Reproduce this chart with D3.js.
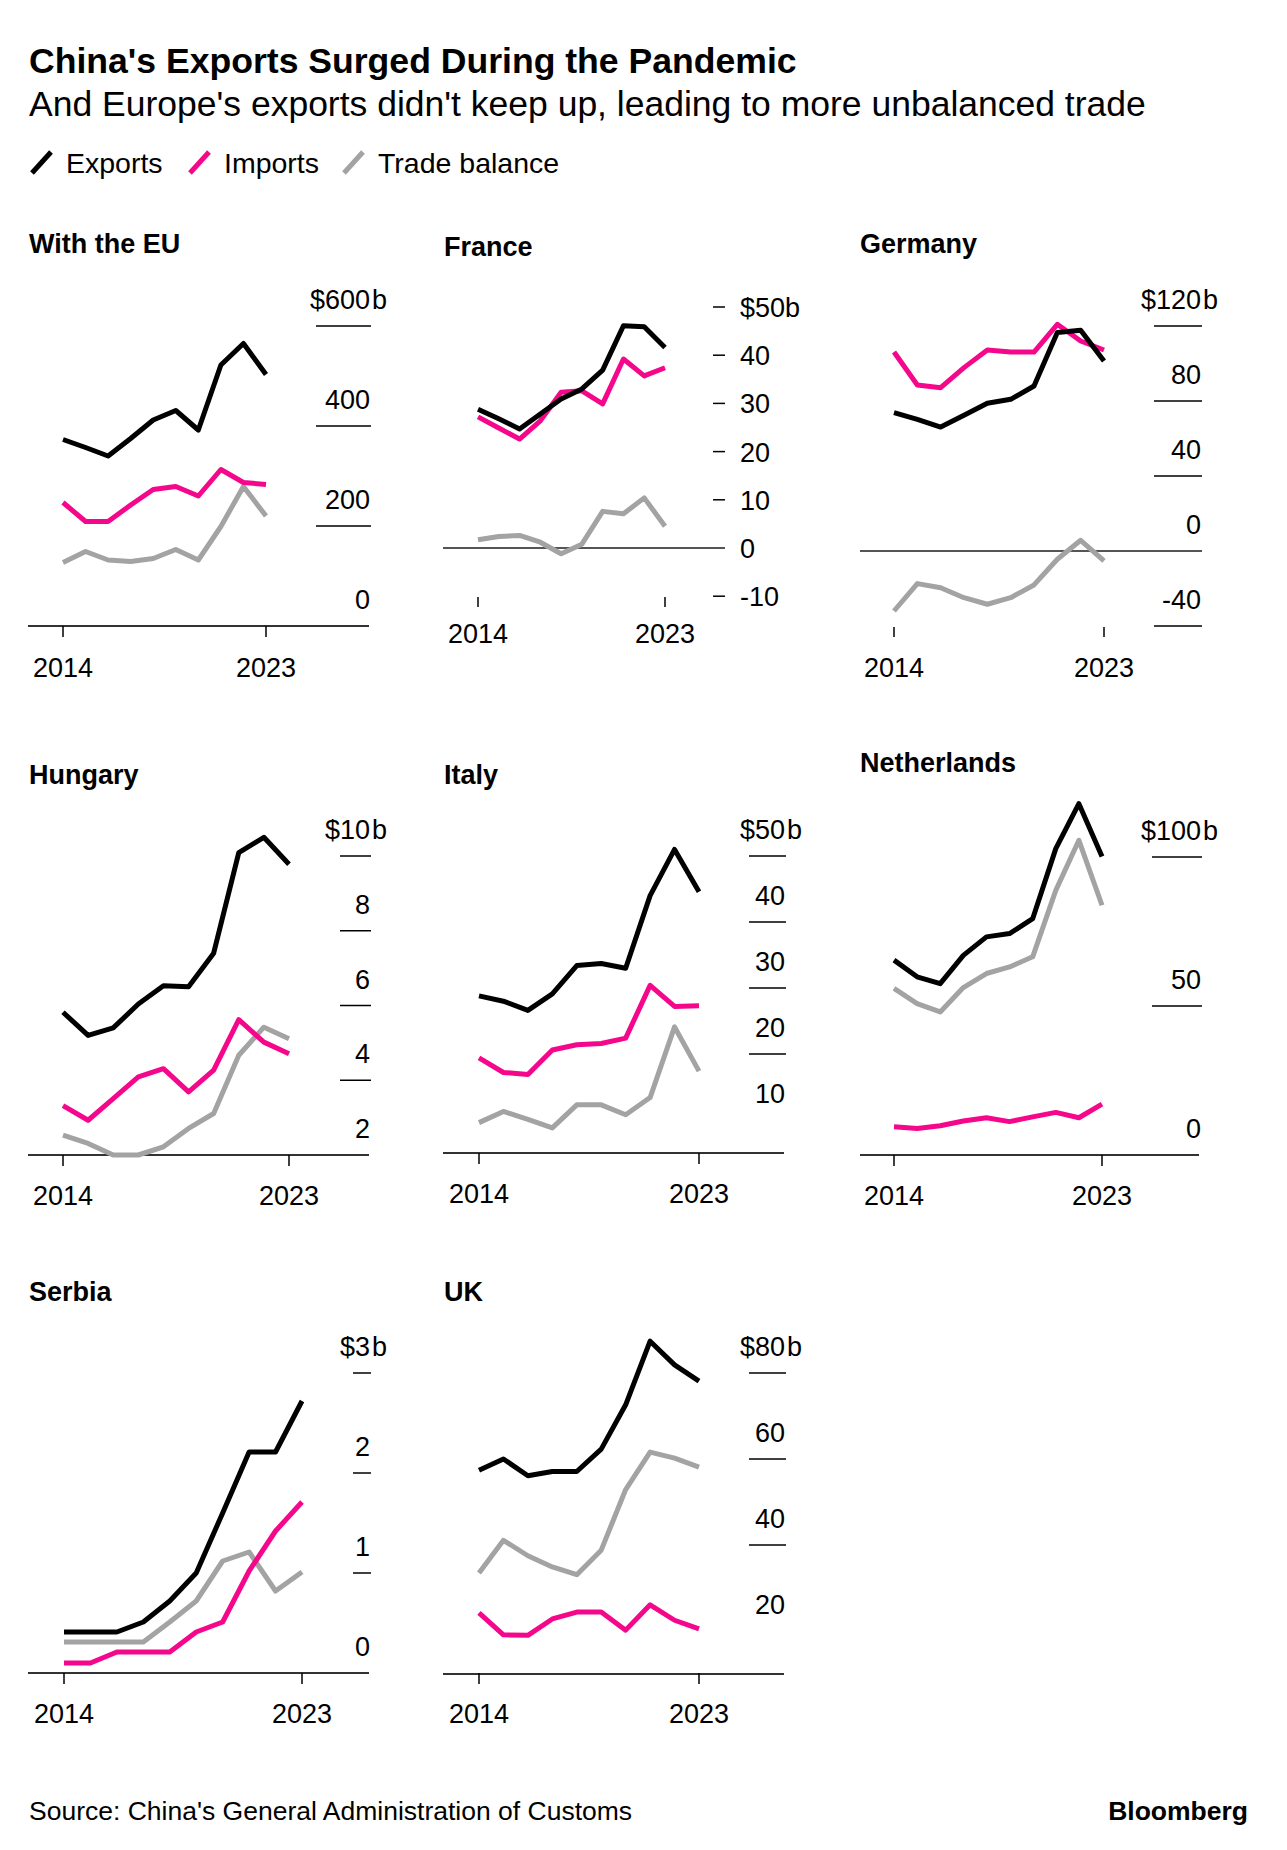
<!DOCTYPE html>
<html>
<head>
<meta charset="utf-8">
<script src="https://cdn.jsdelivr.net/npm/d3@7"></script>
<style>
  body { margin: 0; background: #fff; }
  text { font-family: "Liberation Sans", Arial, sans-serif; }
</style>
</head>
<body>
<div id="chart"></div>
<script>
// China trade with Europe, $b, 2014-2023
const years = [2014, 2015, 2016, 2017, 2018, 2019, 2020, 2021, 2022, 2023];

const euExports = [373, 357, 340, 375, 412, 431, 392, 522, 565, 503];
const euImports = [247, 209, 209, 242, 273, 279, 260, 313, 287, 283];
const euBalance = [127, 149, 132, 129, 135, 153, 132, 199, 279, 220];

const frExports = [28.8, 26.8, 24.7, 27.8, 30.9, 33.0, 36.9, 46.1, 45.9, 41.6];
const frImports = [27.2, 24.9, 22.6, 26.4, 32.3, 32.6, 29.9, 39.2, 35.7, 37.4];
const frBalance = [1.7, 2.4, 2.6, 1.2, -1.2, 0.8, 7.6, 7.1, 10.4, 4.5];

const deExports = [73.8, 70.2, 66.1, 72.4, 78.8, 80.9, 88.0, 116.5, 117.7, 101.3];
const deImports = [106.1, 88.5, 87.1, 97.8, 107.2, 106.1, 106.1, 120.9, 112.0, 107.2];
const deBalance = [-32.0, -17.4, -19.6, -24.9, -28.4, -24.9, -18.1, -4.4, 5.7, -5.3];

const huExports = [5.82, 5.2, 5.4, 6.04, 6.53, 6.5, 7.4, 10.09, 10.5, 9.78];
const huImports = [3.32, 2.93, 3.51, 4.09, 4.31, 3.69, 4.27, 5.62, 5.02, 4.71];
const huBalance = [2.53, 2.31, 1.85, 1.9, 2.22, 2.71, 3.11, 4.67, 5.42, 5.11];

const itExports = [28.8, 28.0, 26.6, 29.1, 33.4, 33.7, 33.0, 44.0, 51.0, 44.6];
const itImports = [19.4, 17.2, 16.9, 20.6, 21.4, 21.6, 22.4, 30.4, 27.2, 27.3];
const itBalance = [9.6, 11.3, 10.1, 8.8, 12.3, 12.3, 10.8, 13.4, 24.1, 17.4];

const nlExports = [65.4, 59.8, 57.5, 67.0, 73.2, 74.3, 79.3, 102.8, 117.9, 100.2];
const nlImports = [9.5, 8.9, 9.8, 11.4, 12.5, 11.2, 12.8, 14.3, 12.5, 17.1];
const nlBalance = [55.9, 50.8, 48.0, 56.2, 60.9, 63.1, 66.5, 88.8, 105.6, 83.8];

const rsExports = [0.41, 0.41, 0.41, 0.51, 0.72, 1.0, 1.6, 2.21, 2.21, 2.72];
const rsImports = [0.10, 0.10, 0.21, 0.21, 0.21, 0.41, 0.51, 1.02, 1.42, 1.71];
const rsBalance = [0.31, 0.31, 0.31, 0.31, 0.51, 0.72, 1.12, 1.21, 0.82, 1.01];

const ukExports = [57.4, 60.0, 56.1, 57.1, 57.1, 62.3, 72.6, 87.4, 81.9, 78.1];
const ukImports = [24.2, 19.1, 19.0, 22.8, 24.4, 24.4, 20.2, 26.1, 22.5, 20.5];
const ukBalance = [33.5, 41.1, 37.5, 34.9, 33.1, 38.8, 52.9, 61.6, 60.2, 58.1];

const seriesNames = ['Trade balance', 'Imports', 'Exports'];
const legendNames = ['Exports', 'Imports', 'Trade balance'];

const colors = { 'Exports': '#000000', 'Imports': '#f5078b', 'Trade balance': '#a3a3a3' };

// layout of each small multiple
const panels = [
  { title: 'With the EU', tx: 29, ty: 253, data: [euBalance, euImports, euExports],
    xr: [63, 266], yd: [0, 600], yr: [626, 326], ticks: [0, 200, 400, 600], grid: [200, 400, 600],
    style: 'right', gx: [316, 371], axis: { v: 0, x1: 28, x2: 369 }, yt: [626, 637], yl: 677 },
  { title: 'France', tx: 444, ty: 256, data: [frBalance, frImports, frExports],
    xr: [478, 665], yd: [0, 50], yr: [548, 307], ticks: [-10, 0, 10, 20, 30, 40, 50], grid: [],
    style: 'left', gx: [713, 725], lx: 740, zero: { x1: 443, x2: 725 }, yt: [597, 607], yl: 643 },
  { title: 'Germany', tx: 860, ty: 253, data: [deBalance, deImports, deExports],
    xr: [894, 1104], yd: [-40, 120], yr: [626, 326], ticks: [-40, 0, 40, 80, 120], grid: [-40, 40, 80, 120],
    style: 'right', gx: [1154, 1202], zero: { x1: 860, x2: 1202 }, yt: [627, 637], yl: 677 },
  { title: 'Hungary', tx: 29, ty: 784, data: [huBalance, huImports, huExports], floor: true,
    xr: [63, 289], yd: [2, 10], yr: [1155, 856], ticks: [2, 4, 6, 8, 10], grid: [4, 6, 8, 10],
    style: 'right', gx: [340, 371], axis: { v: 2, x1: 28, x2: 369 }, yt: [1155, 1166], yl: 1205 },
  { title: 'Italy', tx: 444, ty: 784, data: [itBalance, itImports, itExports],
    xr: [479, 699], yd: [10, 50], yr: [1120, 856], ticks: [10, 20, 30, 40, 50], grid: [20, 30, 40, 50],
    style: 'right', gx: [749, 786], axis: { v: 5, x1: 443, x2: 784 }, yt: [1153, 1164], yl: 1203 },
  { title: 'Netherlands', tx: 860, ty: 772, data: [nlBalance, nlImports, nlExports],
    xr: [894, 1102], yd: [0, 100], yr: [1155, 857], ticks: [0, 50, 100], grid: [50, 100],
    style: 'right', gx: [1152, 1202], axis: { v: 0, x1: 860, x2: 1199 }, yt: [1155, 1166], yl: 1205 },
  { title: 'Serbia', tx: 29, ty: 1301, data: [rsBalance, rsImports, rsExports],
    xr: [64, 302], yd: [0, 3], yr: [1673, 1373], ticks: [0, 1, 2, 3], grid: [1, 2, 3],
    style: 'right', gx: [353, 371], axis: { v: 0, x1: 28, x2: 369 }, yt: [1673, 1684], yl: 1723 },
  { title: 'UK', tx: 444, ty: 1301, data: [ukBalance, ukImports, ukExports],
    xr: [479, 699], yd: [40, 80], yr: [1545, 1373], ticks: [20, 40, 60, 80], grid: [40, 60, 80],
    style: 'right', gx: [749, 786], axis: { v: 10, x1: 443, x2: 784 }, yt: [1673, 1684], yl: 1723 }
];

const width = 1287, height = 1850;

const svg = d3.select('#chart')
  .append('svg')
  .attr('width', width)
  .attr('height', height)
  .attr('viewBox', [0, 0, width, height]);

svg.append('rect').attr('width', width).attr('height', height).attr('fill', '#fff');

// header
svg.append('text')
  .attr('x', 29).attr('y', 73)
  .attr('font-size', 35.6).attr('font-weight', 'bold')
  .text("China's Exports Surged During the Pandemic");

svg.append('text')
  .attr('x', 29).attr('y', 116)
  .attr('font-size', 35.5)
  .text("And Europe's exports didn't keep up, leading to more unbalanced trade");

// legend
const legendX = d3.scaleOrdinal().domain(legendNames).range([29, 187, 341]);
const legend = svg.append('g')
  .selectAll('g')
  .data(legendNames)
  .join('g')
  .attr('transform', d => `translate(${legendX(d)},0)`);

legend.append('line')
  .attr('x1', 3).attr('y1', 173).attr('x2', 22).attr('y2', 152)
  .attr('stroke', d => colors[d])
  .attr('stroke-width', 5);

legend.append('text')
  .attr('x', 37).attr('y', 173)
  .attr('font-size', 28.5)
  .text(d => d);

// small multiples
panels.forEach(p => {
  const g = svg.append('g').attr('class', 'panel');

  const x = d3.scaleLinear().domain([years[0], years[years.length - 1]]).range(p.xr);
  const y = d3.scaleLinear().domain(p.yd).range(p.yr);
  const axisY = p.axis ? y(p.axis.v) : null;

  g.append('text')
    .attr('x', p.tx).attr('y', p.ty)
    .attr('font-size', 27).attr('font-weight', 'bold')
    .text(p.title);

  const top = d3.max(p.ticks);

  if (p.style === 'right') {
    // short gridlines with labels sitting on top
    g.append('g')
      .selectAll('line')
      .data(p.grid)
      .join('line')
      .attr('x1', p.gx[0]).attr('x2', p.gx[1])
      .attr('y1', d => y(d)).attr('y2', d => y(d))
      .attr('stroke', '#000')
      .attr('stroke-width', 1.5);

    g.append('g')
      .selectAll('text')
      .data(p.ticks)
      .join('text')
      .attr('x', p.gx[1] - 1)
      .attr('y', d => y(d) - 17)
      .attr('text-anchor', 'end')
      .attr('font-size', 27)
      .text(d => d === top ? '$' + d : d);

    g.append('text')
      .attr('x', p.gx[1] + 1)
      .attr('y', y(top) - 17)
      .attr('font-size', 27)
      .text('b');
  } else {
    // dash ticks with labels to the right
    g.append('g')
      .selectAll('line')
      .data(p.ticks)
      .join('line')
      .attr('x1', p.gx[0]).attr('x2', p.gx[1])
      .attr('y1', d => y(d)).attr('y2', d => y(d))
      .attr('stroke', '#000')
      .attr('stroke-width', 1.5);

    g.append('g')
      .selectAll('text')
      .data(p.ticks)
      .join('text')
      .attr('x', p.lx)
      .attr('y', d => y(d) + 10)
      .attr('font-size', 27)
      .text(d => d === top ? '$' + d + 'b' : d);
  }

  if (p.zero) {
    g.append('line')
      .attr('x1', p.zero.x1).attr('x2', p.zero.x2)
      .attr('y1', y(0)).attr('y2', y(0))
      .attr('stroke', '#555')
      .attr('stroke-width', 2);
  }

  if (p.axis) {
    g.append('line')
      .attr('x1', p.axis.x1).attr('x2', p.axis.x2)
      .attr('y1', axisY).attr('y2', axisY)
      .attr('stroke', '#333')
      .attr('stroke-width', 2);
  }

  // year ticks
  const yearTicks = [years[0], years[years.length - 1]];
  g.append('g')
    .selectAll('line')
    .data(yearTicks)
    .join('line')
    .attr('x1', d => x(d)).attr('x2', d => x(d))
    .attr('y1', p.yt[0]).attr('y2', p.yt[1])
    .attr('stroke', '#000')
    .attr('stroke-width', 1.5);

  g.append('g')
    .selectAll('text')
    .data(yearTicks)
    .join('text')
    .attr('x', d => x(d))
    .attr('y', p.yl)
    .attr('text-anchor', 'middle')
    .attr('font-size', 27)
    .text(d => d);

  // lines: balance, imports, exports (exports on top)
  // values below the baseline sit on the axis (Hungary)
  const line = d3.line()
    .x((d, i) => x(years[i]))
    .y(d => p.floor ? Math.min(y(d), axisY) : y(d));

  g.append('g')
    .selectAll('path')
    .data(p.data)
    .join('path')
    .attr('d', line)
    .attr('fill', 'none')
    .attr('stroke', (d, i) => colors[seriesNames[i]])
    .attr('stroke-width', 5)
    .attr('stroke-linejoin', 'round');
});

// footer
svg.append('text')
  .attr('x', 29).attr('y', 1820)
  .attr('font-size', 26.5)
  .text("Source: China's General Administration of Customs");

svg.append('text')
  .attr('x', 1248).attr('y', 1820)
  .attr('text-anchor', 'end')
  .attr('font-size', 26.5).attr('font-weight', 'bold')
  .text('Bloomberg');
</script>
</body>
</html>
